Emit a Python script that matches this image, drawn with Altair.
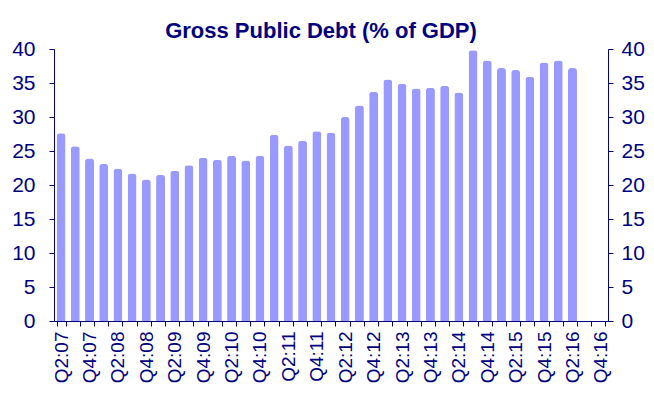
import altair as alt
import pandas as pd

quarters = []
for yr in range(7, 17):
    for q in range(1, 5):
        if yr == 7 and q == 1:
            continue
        quarters.append(f"Q{q}:{yr:02d}")

debt = [27.6, 25.7, 23.9, 23.1, 22.4, 21.7, 20.8, 21.5, 22.1, 22.9,
        24.0, 23.7, 24.3, 23.6, 24.3, 27.4, 25.8, 26.5, 27.9, 27.7,
        30.0, 31.7, 33.7, 35.5, 34.9, 34.2, 34.3, 34.6, 33.6, 39.8,
        38.3, 37.2, 36.9, 35.9, 38.0, 38.3, 37.2]

vals = debt + [None] * (len(quarters) - len(debt))
df = pd.DataFrame({"quarter": quarters, "debt": vals})

NAVY = "#000080"
FONT = "Liberation Sans"
label_expr = "indexof(datum.label, 'Q2') == 0 || indexof(datum.label, 'Q4') == 0 ? datum.label : ''"

xenc = alt.X("quarter:N", sort=quarters, title=None,
             scale=alt.Scale(paddingInner=0.37, paddingOuter=0.185),
             axis=alt.Axis(labelAngle=-90, labelExpr=label_expr, tickBand="extent",
                           labelFontSize=19, labelColor=NAVY, domainColor=NAVY,
                           tickColor=NAVY, tickSize=5, labelPadding=5,
                           labelFont=FONT, labelOverlap=False,
                           labelBaseline="middle", labelAlign="right"))

def yax(orient, pad):
    return alt.Axis(orient=orient, values=list(range(0, 41, 5)), grid=False,
                    labelFontSize=21, labelColor=NAVY, domainColor=NAVY,
                    tickColor=NAVY, tickSize=5, labelPadding=pad,
                    labelFont=FONT, title=None)

base = alt.Chart(df)
bars = base.mark_bar(color="#9999FF", cornerRadiusTopLeft=3, cornerRadiusTopRight=3).encode(
    x=xenc,
    y=alt.Y("debt:Q", scale=alt.Scale(domain=[0, 40]), axis=yax("left", 14)),
)
bars2 = base.mark_bar(opacity=0).encode(
    x=alt.X("quarter:N", sort=quarters),
    y=alt.Y("debt:Q", scale=alt.Scale(domain=[0, 40]), axis=yax("right", 8)),
)

chart = alt.layer(bars, bars2).resolve_axis(y="independent").properties(
    width=554, height=272,
    autosize=alt.AutoSizeParams(type="none"),
    padding={"left": 46, "right": 38, "top": 41, "bottom": 64},
    title=alt.TitleParams("Gross Public Debt (% of GDP)", fontSize=22, fontWeight="bold",
                          color=NAVY, font=FONT, anchor="middle", offset=-5, dx=-10),
).configure_view(strokeWidth=0)

chart.save("out.html", embed_options={"renderer": "svg", "actions": False})
